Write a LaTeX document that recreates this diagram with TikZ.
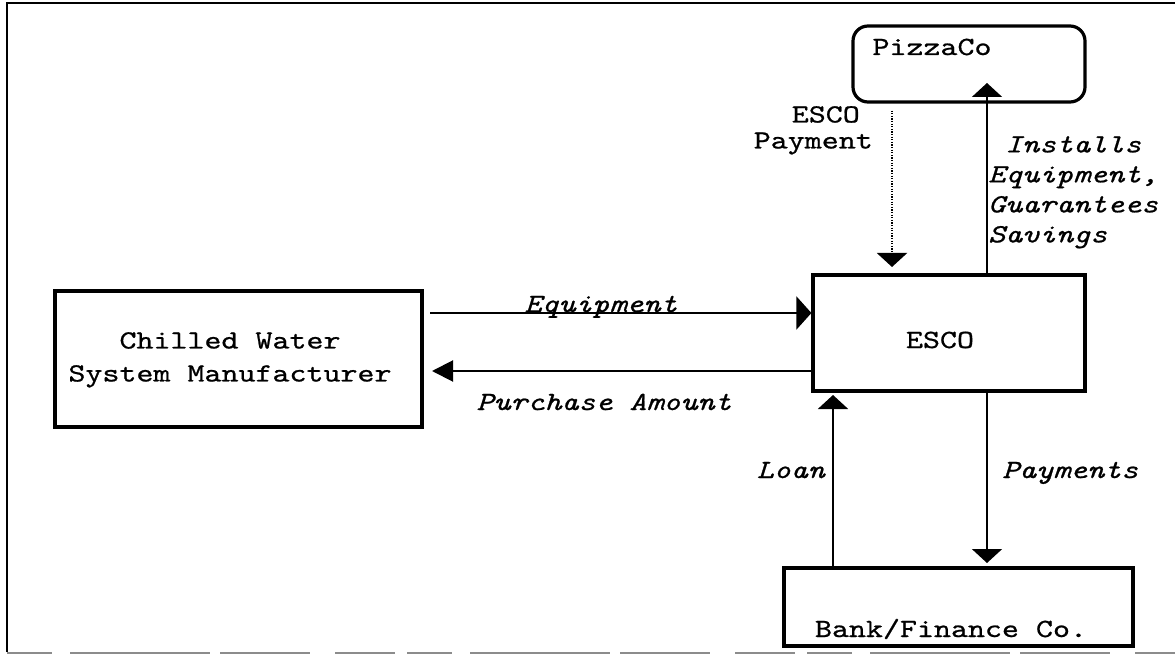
\documentclass[tikz,border=0pt]{standalone}
\usepackage{fontspec}
\usetikzlibrary{arrows.meta}
% typewriter face, slightly widened and darkened
\newfontfamily\cour{lmmono10-regular.otf}[ItalicFont=lmmono10-italic.otf, FakeStretch=1.236, FakeBold=0.8]
\tikzset{
  boxshape/.style={draw, line width=3.2pt, inner sep=0pt},
  lbl/.style={font=\cour\fontsize{26.2}{26}\selectfont, inner sep=0pt},
  lblit/.style={font=\cour\itshape\fontsize{26.2}{30}\selectfont, inner sep=0pt},
  flow/.style={line width=2pt, -{Triangle[width=30pt,length=14pt]}},
}
\begin{document}
\begin{tikzpicture}[x=1pt,y=-1pt]
\useasboundingbox (0,0) rectangle (1175,660);

% outer frame (open on the right, faint broken bottom edge)
\draw[line width=2.6pt] (1175,3) -- (7,3) -- (7,652);
\draw[line width=1.5pt, black!45, dash pattern=on 45pt off 18pt on 140pt off 10pt on 90pt off 25pt on 60pt off 12pt]
  (7,653) -- (1175,653);

% parties
\node[boxshape, minimum width=367pt, minimum height=136pt] (mfr) at (238.5,359) {};
\node[boxshape, minimum width=272pt, minimum height=116pt] (esco) at (949,333) {};
\node[boxshape, rounded corners=15pt, minimum width=232pt, minimum height=76pt] (pizza) at (969,64) {};
\node[boxshape, minimum width=349pt, minimum height=78pt] (bank) at (958.5,607) {};

\node[font=\cour\fontsize{26.2}{33}\selectfont, align=center, inner sep=0pt, anchor=north] (mfrtxt) at (230,332) {Chilled Water\\System Manufacturer};
\node[lbl, anchor=base] (escotxt) at (940,348) {ESCO};
\node[lbl, anchor=base] (pizzatxt) at (932,55) {PizzaCo};
\node[lbl, anchor=base] (banktxt) at (951,637) {Bank/Finance Co.};

% free ends of the connectors
\coordinate (eqS) at (430,313);
\coordinate (paT) at (432,371);
\coordinate (payTip) at (892,267);
\coordinate (instTip) at (987,83);
\coordinate (loanX) at (833,395);
\coordinate (pmtX) at (987,563);

% flows
\draw[flow, -{Triangle[width=33pt,length=15pt]}] (eqS) -- (eqS -| esco.west);
\draw[flow, -{Triangle[width=21pt,length=21pt]}] (paT -| esco.west) -- (paT);
\draw[flow, line width=2.4pt, dash pattern=on 1.3pt off 1.3pt] ([yshift=-7pt]pizza.south -| payTip) -- (payTip);
\draw[flow] (esco.north -| instTip) -- (instTip);
\draw[flow] (bank.north -| loanX) -- (loanX);
\draw[flow] (esco.south -| pmtX) -- (pmtX);

% flow labels
\node[lblit, anchor=base] (eqlbl) at (601,312) {Equipment};
\node[lblit, anchor=base] (palbl) at (604,410) {Purchase Amount};
\node[lbl, align=right, anchor=north east] (paylbl) at (873,106) {ESCO\hspace*{13pt}\\Payment};
\node[lblit, align=left, anchor=north west] (instlbl) at (988,136) {\hspace*{17pt}Installs\\Equipment,\\Guarantees\\Savings};
\node[lblit, anchor=base east] (loanlbl) at (825,478) {Loan};
\node[lblit, anchor=base west] (pmtlbl) at (1002,478) {Payments};
\end{tikzpicture}
\end{document}
